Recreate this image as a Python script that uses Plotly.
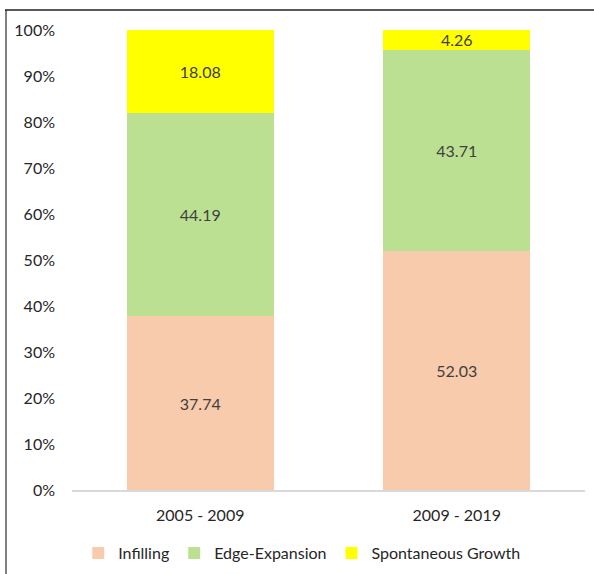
import plotly.graph_objects as go

categories = ["2005 - 2009", "2009 - 2019"]
infilling = [37.74, 52.03]
edge_expansion = [44.19, 43.71]
spontaneous = [18.08, 4.26]
series_names = ["Infilling", "Edge-Expansion", "Spontaneous Growth"]
colors = ["#F8CBAD", "#BCE092", "#FFFF00"]
y_ticks = [0, 10, 20, 30, 40, 50, 60, 70, 80, 90, 100]
y_tick_labels = [f"{v}%" for v in y_ticks]

FONT = "Lato, Open Sans, sans-serif"
fig = go.Figure()
for name, vals, col in zip(series_names, [infilling, edge_expansion, spontaneous], colors):
    fig.add_trace(go.Bar(
        x=categories, y=vals, name=name, marker=dict(color=col, line=dict(width=0)),
        text=[f"{v:.2f}" for v in vals], textposition="inside", insidetextanchor="middle",
        textfont=dict(color="#404040", size=16, family=FONT), textangle=0,
        constraintext="none",
    ))

W, H = 594, 574
L, R, T, B = 72, 9, 30, 84
pw, ph = W - L - R, H - T - B

def px2paper_x(px):
    return (px - L) / pw

def px2paper_y(py):
    return (H - B - py) / ph

fig.update_layout(
    width=W, height=H, barmode="stack", bargap=0.427,
    margin=dict(l=L, r=R, t=T, b=B),
    plot_bgcolor="white", paper_bgcolor="white",
    font=dict(family=FONT, size=16, color="#262626"),
    xaxis=dict(showline=True, linecolor="#D9D9D9", linewidth=2, ticks="", showgrid=False,
               ticklabelstandoff=10, tickfont=dict(size=16, color="#262626")),
    yaxis=dict(range=[0, 100], tickvals=y_ticks, ticktext=y_tick_labels, showgrid=False,
               showline=False, zeroline=False, ticks="", ticklabelstandoff=16,
               tickfont=dict(size=16, color="#262626")),
    legend=dict(orientation="h", xref="container", yref="container", x=0.508, xanchor="center",
                y=1 - 553 / H, yanchor="middle", font=dict(size=16, color="#262626"),
                traceorder="normal"),
    showlegend=True,
)
fig.add_shape(type="line", xref="paper", yref="paper",
              x0=px2paper_x(6), x1=px2paper_x(6), y0=px2paper_y(10), y1=px2paper_y(580),
              line=dict(color="#808080", width=2))
fig.add_shape(type="line", xref="paper", yref="paper",
              x0=px2paper_x(5), x1=px2paper_x(600), y0=px2paper_y(10), y1=px2paper_y(10),
              line=dict(color="#222222", width=1.5))

fig.write_html("out.html")
